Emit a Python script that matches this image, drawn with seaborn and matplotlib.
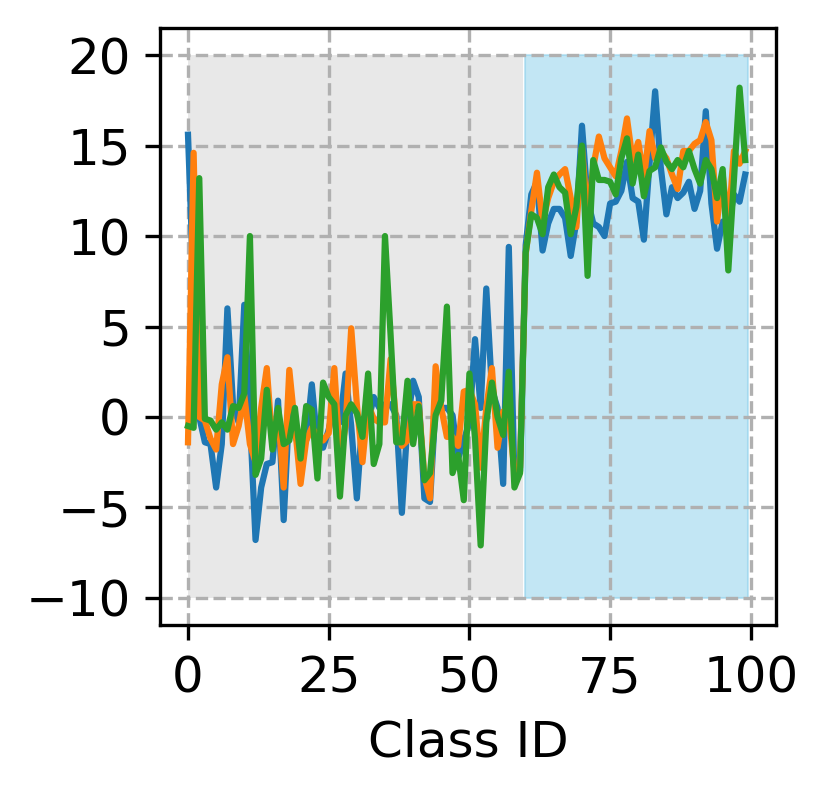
import numpy as np
import pandas as pd
import matplotlib
matplotlib.use("Agg")
import matplotlib.pyplot as plt
import seaborn as sns

class_ids = list(range(100))

series_a = [15.6, 7.0, 0.0, -1.4, -1.5, -3.9, -1.5, 6.0, 0.7, -0.3,
            6.2, 0.0, -6.8, -3.9, -2.6, -2.5, 0.9, -5.7, 0.5, -1.0,
            -1.9, -1.3, 1.8, -1.5, -1.7, -0.7, 0.7, -0.3, 2.4, -0.5,
            -4.5, -0.1, -0.3, 1.1, 0.5, 0.7, 0.7, 0.1, -5.3, -0.3,
            2.0, 1.1, -4.5, -4.7, 0.7, 0.5, 0.5, 0.1, -2.3, -1.3,
            -0.3, 4.3, 0.5, 7.1, 1.5, 0.5, -3.7, 9.4, -3.5, -3.0,
            9.5, 12.3, 13.0, 9.2, 10.7, 11.5, 11.5, 11.0, 8.9, 10.8,
            16.1, 12.0, 10.7, 10.5, 10.0, 11.8, 11.9, 12.5, 14.1, 12.1,
            11.9, 9.8, 14.0, 18.0, 13.8, 11.2, 12.7, 12.1, 12.4, 13.0,
            11.5, 12.5, 16.9, 11.8, 9.3, 10.8, 10.5, 12.3, 11.9, 13.4]

series_b = [-1.4, 14.6, 0.0, -0.2, -1.2, -1.8, 1.8, 3.3, -1.5, -0.5,
            1.2, -1.5, -2.5, 0.5, 2.7, -1.5, 0.3, -3.9, 2.6, -0.5,
            -3.7, -1.3, -0.6, -1.0, -1.3, -0.9, 2.7, -2.3, -0.5, 4.9,
            0.7, -2.5, 0.7, -0.1, -0.3, -0.3, 3.2, -0.3, -1.6, -1.3,
            0.7, 0.7, -3.3, -4.5, 2.8, 0.5, -1.1, -1.1, -1.6, 1.4,
            1.5, 0.7, -2.8, 0.5, 2.7, -1.7, 0.3, 0.1, -3.0, -2.8,
            9.0, 11.4, 13.5, 10.8, 12.1, 13.0, 13.4, 13.7, 12.1, 10.5,
            14.9, 11.0, 13.8, 15.5, 14.3, 13.8, 13.3, 14.7, 16.5, 14.2,
            15.2, 13.2, 15.8, 14.3, 14.7, 14.3, 13.4, 12.6, 14.7, 14.7,
            15.1, 15.3, 16.3, 15.3, 10.8, 13.4, 10.5, 14.7, 14.0, 14.7]

series_c = [-0.5, -0.6, 13.2, -0.1, -0.2, -0.7, -0.3, -0.7, 0.6, 0.5,
            1.3, 10.0, -3.2, -2.3, 1.5, -1.8, 0.5, -1.5, -1.3, 0.5,
            -2.3, 0.6, 0.4, -3.4, 1.9, 1.1, 0.7, -4.4, 0.1, 0.7,
            0.2, -1.1, 2.4, -2.6, -1.5, 10.0, 4.5, -1.4, -1.4, 2.0,
            -1.5, 0.6, -3.5, -3.1, 0.1, 0.9, 6.1, -3.1, -2.1, -4.6,
            2.4, -1.2, -7.1, -0.3, 1.9, 0.0, -1.0, 2.5, -3.9, -3.1,
            9.1, 11.2, 11.0, 10.1, 12.7, 13.4, 12.7, 12.4, 10.1, 11.6,
            15.0, 7.8, 14.2, 13.1, 13.1, 13.0, 12.3, 14.3, 15.4, 12.9,
            14.5, 12.2, 13.6, 13.8, 14.9, 14.1, 13.7, 14.2, 13.8, 14.7,
            13.7, 12.9, 14.2, 13.7, 12.1, 13.7, 8.1, 13.1, 18.2, 14.2]

series_names = ["a", "b", "c"]
region_x_gray = [0, 59.5]
region_x_blue = [59.9, 99.5]
region_y = [-10, 20]

df = pd.DataFrame({
    "Class ID": class_ids * 3,
    "value": series_a + series_b + series_c,
    "series": [series_names[0]] * 100 + [series_names[1]] * 100 + [series_names[2]] * 100,
})

plt.rcParams["font.family"] = ["DejaVu Sans"]
DPI = 300
fig = plt.figure(figsize=(829 / DPI, 792 / DPI), dpi=DPI)
ax = fig.add_axes([160 / 829, 1 - 625 / 792, (776 - 160) / 829, (625 - 28) / 792])

ax.fill_between(region_x_gray, region_y[0], region_y[1], color="lightgray", alpha=0.5, linewidth=0)
ax.fill_between(region_x_blue, region_y[0], region_y[1], color="skyblue", alpha=0.5,
                edgecolor="skyblue", linewidth=0.5)

sns.lineplot(data=df, x="Class ID", y="value", hue="series",
             palette=sns.color_palette("tab10", 3), linewidth=1.5,
             legend=False, ax=ax)

ax.grid(True, linestyle="--", color="#b0b0b0", linewidth=0.8)
ax.set_xticks([0, 25, 50, 75, 100])
ax.set_yticks([-10, -5, 0, 5, 10, 15, 20])
ax.tick_params(labelsize=12)
ax.set_xlabel("Class ID", fontsize=12)
ax.set_ylabel("")

fig.savefig("out.png", dpi=DPI)
